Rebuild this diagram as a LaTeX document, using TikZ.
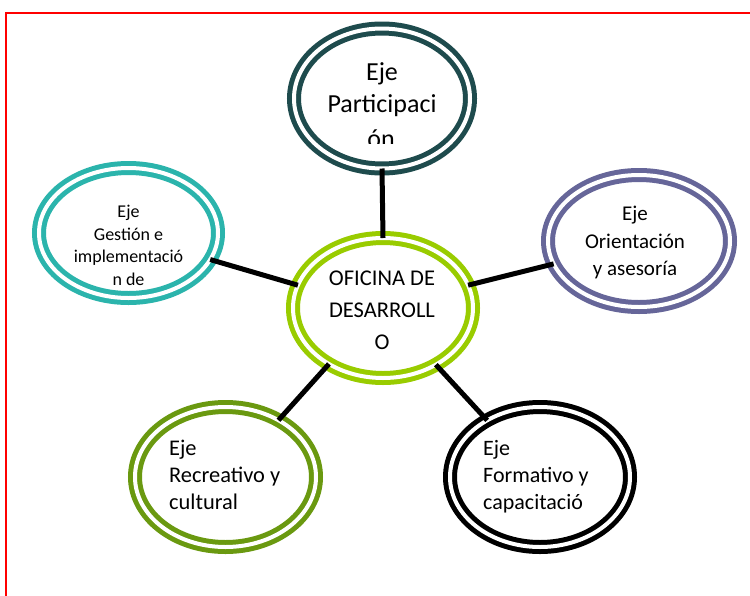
\documentclass[tikz,border=0pt]{standalone}
\usepackage{fontspec}
\setmainfont{Carlito}
\usetikzlibrary{shapes.geometric}
\definecolor{cTop}{RGB}{30,75,77}
\definecolor{cLeft}{RGB}{43,180,172}
\definecolor{cRight}{RGB}{102,102,153}
\definecolor{cCtr}{RGB}{153,204,0}
\definecolor{cBL}{RGB}{106,153,16}
\begin{document}
\begin{tikzpicture}[x=1pt,y=-1pt,
  ring/.style={ellipse, draw=#1, double=white, double distance=4pt, line width=5pt,
    inner sep=0pt, outer sep=0pt},
  link/.style={line width=5pt, black},
  lbl/.style={inner sep=0pt, anchor=base},
  lbll/.style={inner sep=0pt, anchor=base west}]
\useasboundingbox (0,0) rectangle (750,595);
\fill[white] (0,0) rectangle (750,595);
\draw[red, line width=2pt] (6,610) -- (6,13) -- (760,13);

\node[ring=cTop, minimum width=176pt, minimum height=140pt] (top) at (382,98.5) {};
\node[ring=cLeft, minimum width=179pt, minimum height=130pt] (left) at (128.5,233) {};
\node[ring=cRight, minimum width=182pt, minimum height=132pt] (right) at (639,241) {};
\node[ring=cCtr, minimum width=180pt, minimum height=140pt] (ctr) at (383,308) {};
\node[ring=cBL, minimum width=181pt, minimum height=140pt] (bl) at (225.5,477) {};
\node[ring=black, minimum width=180pt, minimum height=140pt] (br) at (540,477) {};

\draw[link] (top.270) -- (ctr.90);
\draw[link] (left.-18.6) -- (ctr.165);
\draw[link] (right.-165.5) -- (ctr.15);
\draw[link] (bl.47) -- (ctr.226);
\draw[link] (br.133) -- (ctr.313.5);

\begin{scope}
\clip (282,40) rectangle (482,143);
\node[lbl, font=\fontsize{26}{32}\selectfont] (t1) at (382,80) {Eje};
\node[lbl, font=\fontsize{26}{32}\selectfont] (t2) at (382,112) {Participaci};
\node[lbl, font=\fontsize{26}{32}\selectfont] (t3) at (381,147) {ón};
\end{scope}

\node[lbl, font=\fontsize{18}{22}\selectfont] (l1) at (128.5,217) {Eje};
\node[lbl, font=\fontsize{18}{22}\selectfont] (l2) at (128.5,240) {Gestión e};
\node[lbl, font=\fontsize{18}{22}\selectfont] (l3) at (128.5,262.5) {implementació};
\node[lbl, font=\fontsize{18}{22}\selectfont] (l4) at (128.5,285) {n de};

\node[lbl, font=\fontsize{21}{27}\selectfont] (r1) at (635,220) {Eje};
\node[lbl, font=\fontsize{21}{27}\selectfont] (r2) at (635,248) {Orientación};
\node[lbl, font=\fontsize{21}{27}\selectfont] (r3) at (635,275) {y asesoría};

\node[lbl, font=\fontsize{22.5}{32}\selectfont] (c1) at (382,285) {OFICINA DE};
\node[lbl, font=\fontsize{22.5}{32}\selectfont] (c2) at (382,317) {DESARROLL};
\node[lbl, font=\fontsize{22.5}{32}\selectfont] (c3) at (382,349) {O};

\node[lbll, font=\fontsize{22.4}{27}\selectfont] (b1) at (169,455) {Eje};
\node[lbll, font=\fontsize{22.4}{27}\selectfont] (b2) at (169,482) {Recreativo y};
\node[lbll, font=\fontsize{22.4}{27}\selectfont] (b3) at (169,509) {cultural};

\node[lbll, font=\fontsize{22}{27}\selectfont] (f1) at (483,455) {Eje};
\node[lbll, font=\fontsize{22}{27}\selectfont] (f2) at (483,482) {Formativo y};
\node[lbll, font=\fontsize{22}{27}\selectfont] (f3) at (483,509) {capacitació};
\end{tikzpicture}
\end{document}
